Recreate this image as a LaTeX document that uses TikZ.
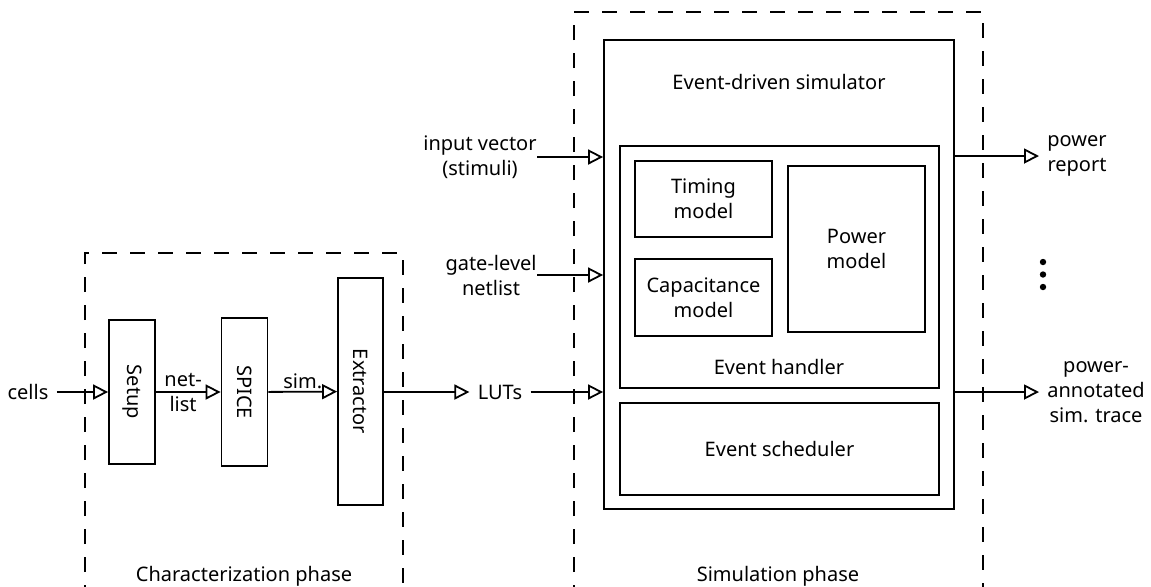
\documentclass[tikz,border=0pt]{standalone}
\usepackage{fontspec}
\setmainfont{Noto Sans}
\usetikzlibrary{arrows.meta,positioning}

\begin{document}
\begin{tikzpicture}[
  x=0.5pt, y=-0.5pt,
  font=\fontsize{10}{12.5}\selectfont,
  box/.style={draw, line width=0.9pt, inner sep=0pt, align=center},
  vbox/.style={box, rotate=-90, minimum height=23pt},
  lbl/.style={align=center, inner sep=4pt},
  phase/.style={line width=0.9pt, dash pattern=on 7.5pt off 6.5pt},
  arrow/.style={-{Triangle[open, length=7.5pt, width=7.5pt]}, line width=0.9pt}
]
\useasboundingbox (0,0) rectangle (1151,586);

% characterization phase
\draw[phase] (85,600) -- (85,253) -- (403,253) -- (403,600);
\node[vbox, minimum width=72pt] (setup) at (132,392) {Setup};
\node[vbox, minimum width=74pt] (spice) at (244.5,392) {SPICE};
\node[vbox, minimum width=113.5pt, minimum height=22.5pt] (extract) at (360.5,391.5) {Extractor};
\node[lbl] (cells) at (28,392) {cells};
\node[lbl] (luts) at (500,392) {LUTs};
\node (charlabel) at (244,576) {Characterization phase};

% simulation phase
\draw[phase] (574,600) -- (574,12) -- (983,12) -- (983,600);
\node[box, minimum width=175pt, minimum height=234.5pt] (sim) at (779,274.5) {};
\node[box, minimum width=159.5pt, minimum height=121pt] (handler) at (779.5,267) {};
\node[box, minimum width=68.5pt, minimum height=38pt] (timing) at (703.5,199) {Timing\\model};
\node[box, minimum width=68.5pt, minimum height=38.5pt] (cap) at (703.5,297.5) {Capacitance\\model};
\node[box, minimum width=68.5pt, minimum height=83pt] (power) at (856.5,249) {Power\\model};
\node[box, minimum width=159.5pt, minimum height=46pt] (sched) at (779.5,449) {Event scheduler};
\node (simtitle) at (779,82) {Event-driven simulator};
\node (handtitle) at (779,367) {Event handler};
\node (simlabel) at (778,576) {Simulation phase};

% inputs and outputs
\node[lbl, inner sep=0pt, anchor=east] (invec) at (537,157) {input vector\\(stimuli)};
\node[lbl, inner sep=0pt, anchor=east] (netlist) at (537,275) {gate-level\\netlist};
\node[lbl, anchor=west] (report) at (1039,156) {power\\report};
\node[lbl, anchor=west] (trace) at (1039,392) {power-\\annotated\\sim. trace};
\foreach \y in {262,274.5,287}
  \fill (1043,\y) circle (1.6pt);

\draw[arrow] (cells) -- (setup);
\draw[arrow] (setup) -- node[pos=0.42, align=center, inner sep=0pt] {net-\\list} (spice);
\draw[arrow] (spice) -- node[above, inner sep=1pt] {sim.} (extract);
\draw[arrow] (extract.north |- luts.west) -- (luts);
\draw[arrow] (luts) -- (luts -| sim.west);
\draw[arrow] (invec.east) -- (invec.east -| sim.west);
\draw[arrow] (netlist.east) -- (netlist.east -| sim.west);
\draw[arrow] (report.west -| sim.east) -- (report.west);
\draw[arrow] (trace.west -| sim.east) -- (trace.west);
\end{tikzpicture}
\end{document}
